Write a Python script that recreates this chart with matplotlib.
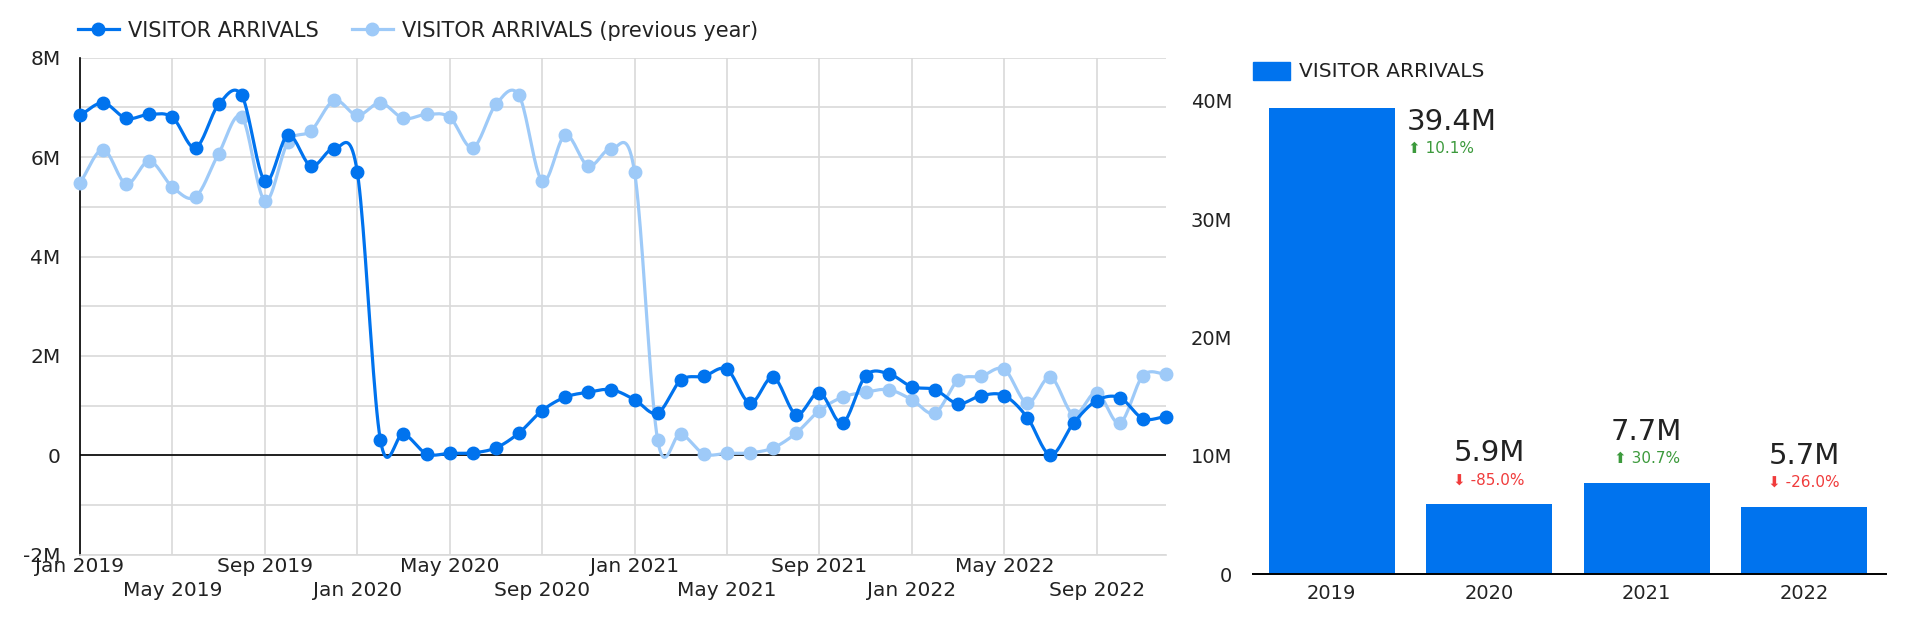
import numpy as np
import matplotlib
matplotlib.use('Agg')
import matplotlib.pyplot as plt
from matplotlib.lines import Line2D
from matplotlib.patches import Patch

plt.rcParams['font.family'] = ['DejaVu Sans']
plt.rcParams['text.color'] = '#222222'

# monthly visitor arrivals, millions (Jan 2019 .. Dec 2022)
arrivals = [6.84, 7.09, 6.78, 6.86, 6.80, 6.19, 7.06, 7.24, 5.52, 6.44, 5.82, 6.17,
            5.70, 0.31, 0.43, 0.03, 0.04, 0.05, 0.15, 0.45, 0.90, 1.17, 1.27, 1.32,
            1.12, 0.85, 1.51, 1.59, 1.73, 1.05, 1.57, 0.82, 1.26, 0.65, 1.60, 1.64,
            1.38, 1.32, 1.04, 1.20, 1.20, 0.76, 0.01, 0.65, 1.10, 1.16, 0.74, 0.78]
# 2018 months, shown as "previous year" for 2019
arrivals_2018 = [5.48, 6.15, 5.46, 5.92, 5.40, 5.20, 6.07, 6.81, 5.12, 6.30, 6.53, 7.14]
arrivals_prev = arrivals_2018 + arrivals[:36]

row1_ticks = [0, 8, 16, 24, 32, 40]
row1_labels = ['Jan 2019', 'Sep 2019', 'May 2020', 'Jan 2021', 'Sep 2021', 'May 2022']
row2_ticks = [4, 12, 20, 28, 36, 44]
row2_labels = ['May 2019', 'Jan 2020', 'Sep 2020', 'May 2021', 'Jan 2022', 'Sep 2022']

years = ['2019', '2020', '2021', '2022']
totals = [39.4, 5.9, 7.7, 5.7]
changes = [10.1, -85.0, 30.7, -26.0]

DARK = '#0073ee'
LIGHT = '#9ecaf8'
GRID = '#d9d9d9'


def smooth(y, n=20):
    # catmull-rom style curve through the points (like curveType 'function')
    y = np.asarray(y, dtype=float)
    m = np.gradient(y)
    t = np.linspace(0, 1, n, endpoint=False)
    h00 = 2 * t**3 - 3 * t**2 + 1
    h10 = t**3 - 2 * t**2 + t
    h01 = -2 * t**3 + 3 * t**2
    h11 = t**3 - t**2
    xs, ys = [], []
    for i in range(len(y) - 1):
        xs.append(i + t)
        ys.append(h00 * y[i] + h10 * m[i] + h01 * y[i + 1] + h11 * m[i + 1])
    xs.append([len(y) - 1])
    ys.append([y[-1]])
    return np.concatenate(xs), np.concatenate(ys)


fig = plt.figure(figsize=(19.2, 6.26), dpi=100)

# ---- line chart
ax = fig.add_axes([80 / 1920, 1 - 554.7 / 626, 1086 / 1920, 497 / 626])
x = np.arange(len(arrivals))
for vals, col, z in [(arrivals_prev, LIGHT, 3), (arrivals, DARK, 4)]:
    sx, sy = smooth(vals)
    ax.plot(sx, sy, color=col, lw=2.3, zorder=z, clip_on=False)
    ax.plot(x, vals, 'o', color=col, ms=9, zorder=z, clip_on=False)

ax.set_xlim(0, 47)
ax.set_ylim(-2, 8)
ax.set_yticks([-2, 0, 2, 4, 6, 8])
ax.set_yticklabels(['-2M', '0', '2M', '4M', '6M', '8M'])
ax.set_yticks([-1, 1, 3, 5, 7], minor=True)
ax.set_xticks(row1_ticks)
ax.set_xticklabels(row1_labels)
ax.set_xticks(row2_ticks, minor=True)
ax.set_xticklabels(row2_labels, minor=True)
ax.tick_params(axis='both', which='both', length=0, labelsize=14.5, colors='#222222')
ax.tick_params(axis='y', pad=14)
ax.tick_params(axis='x', which='major', pad=2)
ax.tick_params(axis='x', which='minor', pad=19)
ax.grid(True, which='both', color=GRID, lw=1.2, zorder=0)
ax.set_axisbelow(True)
ax.axhline(0, color='black', lw=1.2, zorder=2)
for s in ['top', 'right']:
    ax.spines[s].set_visible(False)
ax.spines['left'].set_color('black')
ax.spines['left'].set_linewidth(1.2)
ax.spines['bottom'].set_color(GRID)
ax.spines['bottom'].set_linewidth(1.2)

handles = [Line2D([], [], color=DARK, lw=2.3, marker='o', ms=9),
           Line2D([], [], color=LIGHT, lw=2.3, marker='o', ms=9)]
fig.legend(handles, ['VISITOR ARRIVALS', 'VISITOR ARRIVALS (previous year)'],
           loc='center left', bbox_to_anchor=(78 / 1920, 1 - 30.7 / 626), ncol=2,
           frameon=False, fontsize=15, handlelength=1.95, handletextpad=0.45,
           columnspacing=1.6, borderaxespad=0, borderpad=0)

# ---- yearly bar chart
bx = fig.add_axes([1253 / 1920, 1 - 574 / 626, 633 / 1920, 473 / 626])
pos = np.arange(len(years))
bx.bar(pos, totals, width=0.8, color=DARK, zorder=2)
bx.set_xlim(-0.5, 3.52)
bx.set_ylim(0, 40)
bx.set_yticks([0, 10, 20, 30, 40])
bx.set_yticklabels(['0', '10M', '20M', '30M', '40M'])
bx.set_xticks(pos)
bx.set_xticklabels(years)
bx.tick_params(axis='both', length=0, labelsize=14, colors='#222222')
bx.tick_params(axis='y', pad=15)
bx.tick_params(axis='x', pad=7)
for s in ['top', 'right', 'left']:
    bx.spines[s].set_visible(False)
bx.spines['bottom'].set_color('black')
bx.spines['bottom'].set_linewidth(1.4)

for i, (v, c) in enumerate(zip(totals, changes)):
    col = '#3c9a3c' if c > 0 else '#f03c3c'
    arrow = '⬆' if c > 0 else '⬇'
    pct = f'{arrow} {c:.1f}%'
    if i == 0:
        # tallest bar: labels sit beside it
        bx.annotate(f'{v}M', (i + 0.4, v), xytext=(12, -14), textcoords='offset pixels',
                    ha='left', va='center', fontsize=21, annotation_clip=False)
        bx.annotate(pct, (i + 0.4, v), xytext=(13, -40), textcoords='offset pixels',
                    ha='left', va='center', fontsize=11, color=col, annotation_clip=False)
    else:
        bx.annotate(f'{v}M', (i, v), xytext=(0, 51), textcoords='offset pixels',
                    ha='center', va='center', fontsize=21, annotation_clip=False)
        bx.annotate(pct, (i, v), xytext=(0, 24), textcoords='offset pixels',
                    ha='center', va='center', fontsize=11, color=col, annotation_clip=False)

fig.legend([Patch(color=DARK)], ['VISITOR ARRIVALS'], loc='center left',
           bbox_to_anchor=(1253 / 1920, 1 - 71.5 / 626),
           frameon=False, fontsize=14.5, handlelength=1.85, handleheight=1.0,
           handletextpad=0.45, borderaxespad=0, borderpad=0)

fig.savefig('out.png', dpi=100, facecolor='white')
